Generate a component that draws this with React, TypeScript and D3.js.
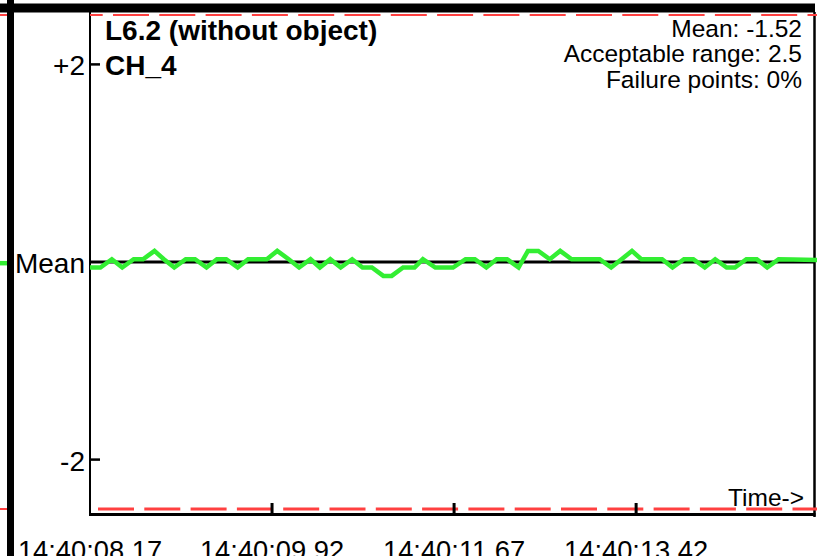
import React from "react";
import * as d3 from "d3";

const W = 817;
const H = 556;

const TITLE = "L6.2 (without object)";
const CHANNEL = "CH_4";
const MEAN = -1.52;
const RANGE = 2.5;
const FAILURE_PCT = "0%";

const yTickOffsets = [2, -2];
const yTickLabels = ["+2", "-2"];

const xTickOffsets = [0, 1.75, 3.5, 5.25];
const xTickLabels = ["14:40:08.17", "14:40:09.92", "14:40:11.67", "14:40:13.42"];

// seconds since 14:40:08.17
const times = [
  0.0, 0.1, 0.21, 0.31, 0.42, 0.51, 0.62, 0.71, 0.81, 0.92,
  1.01, 1.12, 1.22, 1.31, 1.42, 1.52, 1.61, 1.7, 1.8, 1.91,
  2.01, 2.12, 2.21, 2.31, 2.41, 2.52, 2.62, 2.71, 2.82, 2.9,
  3.01, 3.12, 3.2, 3.32, 3.4, 3.49, 3.61, 3.7, 3.81, 3.91,
  4.01, 4.12, 4.21, 4.31, 4.42, 4.52, 4.63, 4.72, 4.81, 4.9,
  5.01, 5.11, 5.21, 5.3, 5.4, 5.5, 5.6, 5.71, 5.8, 5.91,
  6.01, 6.12, 6.2, 6.31, 6.41, 6.51, 6.62, 6.76, 6.99,
];

const values = [
  -1.576, -1.576, -1.492, -1.576, -1.492, -1.492, -1.408, -1.492, -1.576, -1.492,
  -1.492, -1.576, -1.492, -1.492, -1.576, -1.492, -1.492, -1.492, -1.408, -1.492,
  -1.576, -1.492, -1.576, -1.492, -1.576, -1.492, -1.576, -1.576, -1.661, -1.661,
  -1.576, -1.576, -1.492, -1.576, -1.576, -1.576, -1.492, -1.492, -1.576, -1.492,
  -1.492, -1.576, -1.408, -1.408, -1.492, -1.408, -1.492, -1.492, -1.492, -1.492,
  -1.576, -1.492, -1.408, -1.492, -1.492, -1.492, -1.576, -1.492, -1.492, -1.576,
  -1.492, -1.576, -1.576, -1.492, -1.492, -1.576, -1.492, -1.494, -1.499,
];

const FONT = "'Liberation Sans', Arial, Helvetica, sans-serif";
const GREEN = "#33ee33";
const RED = "#ff4040";

export default function App() {
  const x = d3.scaleLinear().domain([0, 6.96]).range([90, 814]);
  const y = d3.scaleLinear().domain([MEAN - RANGE, MEAN + RANGE]).range([509, 15]);

  const line = d3
    .line<number>()
    .x((_, i) => x(times[i]))
    .y((d) => y(d));

  const axisY = 514.5;

  return (
    <svg
      width={W}
      height={H}
      style={{ position: "fixed", left: 0, top: 0, background: "#fff" }}
      fontFamily={FONT}
    >
      <rect x={0} y={0} width={W} height={H} fill="#fff" />

      {/* leaks from neighbouring panel on the left */}
      <line x1={0} x2={7} y1={y(MEAN + RANGE)} y2={y(MEAN + RANGE)} stroke={RED} strokeWidth={2} />
      <line x1={0} x2={7} y1={y(MEAN - RANGE)} y2={y(MEAN - RANGE)} stroke={RED} strokeWidth={2} />
      <line x1={0} x2={7} y1={y(MEAN - 0.012)} y2={y(MEAN - 0.012)} stroke={GREEN} strokeWidth={4.5} />

      {/* frame */}
      <rect x={0} y={3.5} width={815} height={9} fill="#000" />
      <rect x={7} y={0} width={7} height={H} fill="#000" />
      <line x1={90} x2={90} y1={12} y2={516} stroke="#000" strokeWidth={2} />
      <line x1={814.5} x2={814.5} y1={12} y2={517} stroke="#000" strokeWidth={2.5} />

      {/* acceptable range lines */}
      <line
        x1={90}
        x2={817}
        y1={y(MEAN + RANGE)}
        y2={y(MEAN + RANGE)}
        stroke={RED}
        strokeWidth={2}
        strokeDasharray="36 10.3"
        strokeDashoffset={-23}
      />
      <line
        x1={90}
        x2={817}
        y1={y(MEAN - RANGE)}
        y2={y(MEAN - RANGE)}
        stroke={RED}
        strokeWidth={3}
        strokeDasharray="36 10.3"
        strokeDashoffset={-8}
      />

      {/* x axis */}
      <line x1={89} x2={815.5} y1={axisY} y2={axisY} stroke="#000" strokeWidth={3} />
      {xTickOffsets.map((t, i) =>
        i === 0 ? null : (
          <line key={"xt" + i} x1={x(t)} x2={x(t)} y1={503} y2={axisY} stroke="#000" strokeWidth={3} />
        )
      )}
      {xTickOffsets.map((t, i) => (
        <text key={"xl" + i} x={x(t)} y={559.5} fontSize={27.3} textAnchor="middle" fill="#000">
          {xTickLabels[i]}
        </text>
      ))}
      <text x={804} y={506} fontSize={24.5} textAnchor="end" fill="#000">
        Time-&gt;
      </text>

      {/* y ticks */}
      {yTickOffsets.map((o, i) => (
        <g key={"yt" + i}>
          <line x1={90} x2={100} y1={y(MEAN + o)} y2={y(MEAN + o)} stroke="#000" strokeWidth={2.5} />
          <text x={85} y={y(MEAN + o) + 11} fontSize={28} textAnchor="end" fill="#000">
            {yTickLabels[i]}
          </text>
        </g>
      ))}

      {/* mean line */}
      <line x1={90} x2={814} y1={y(MEAN)} y2={y(MEAN)} stroke="#000" strokeWidth={3} />
      <text x={85} y={y(MEAN) + 10.5} fontSize={28} textAnchor="end" fill="#000">
        Mean
      </text>

      {/* data */}
      <path d={line(values) || ""} fill="none" stroke={GREEN} strokeWidth={4.5} strokeLinejoin="miter" />

      {/* labels */}
      <text x={105} y={39.5} fontSize={28} fontWeight="bold" fill="#000">
        {TITLE}
      </text>
      <text x={105} y={75} fontSize={28} fontWeight="bold" fill="#000">
        {CHANNEL}
      </text>
      <text x={802} y={36.5} fontSize={24.5} textAnchor="end" fill="#000">
        {`Mean: ${MEAN}`}
      </text>
      <text x={802} y={62} fontSize={24.5} textAnchor="end" fill="#000">
        {`Acceptable range: ${RANGE}`}
      </text>
      <text x={802} y={88} fontSize={24.5} textAnchor="end" fill="#000">
        {`Failure points: ${FAILURE_PCT}`}
      </text>
    </svg>
  );
}
